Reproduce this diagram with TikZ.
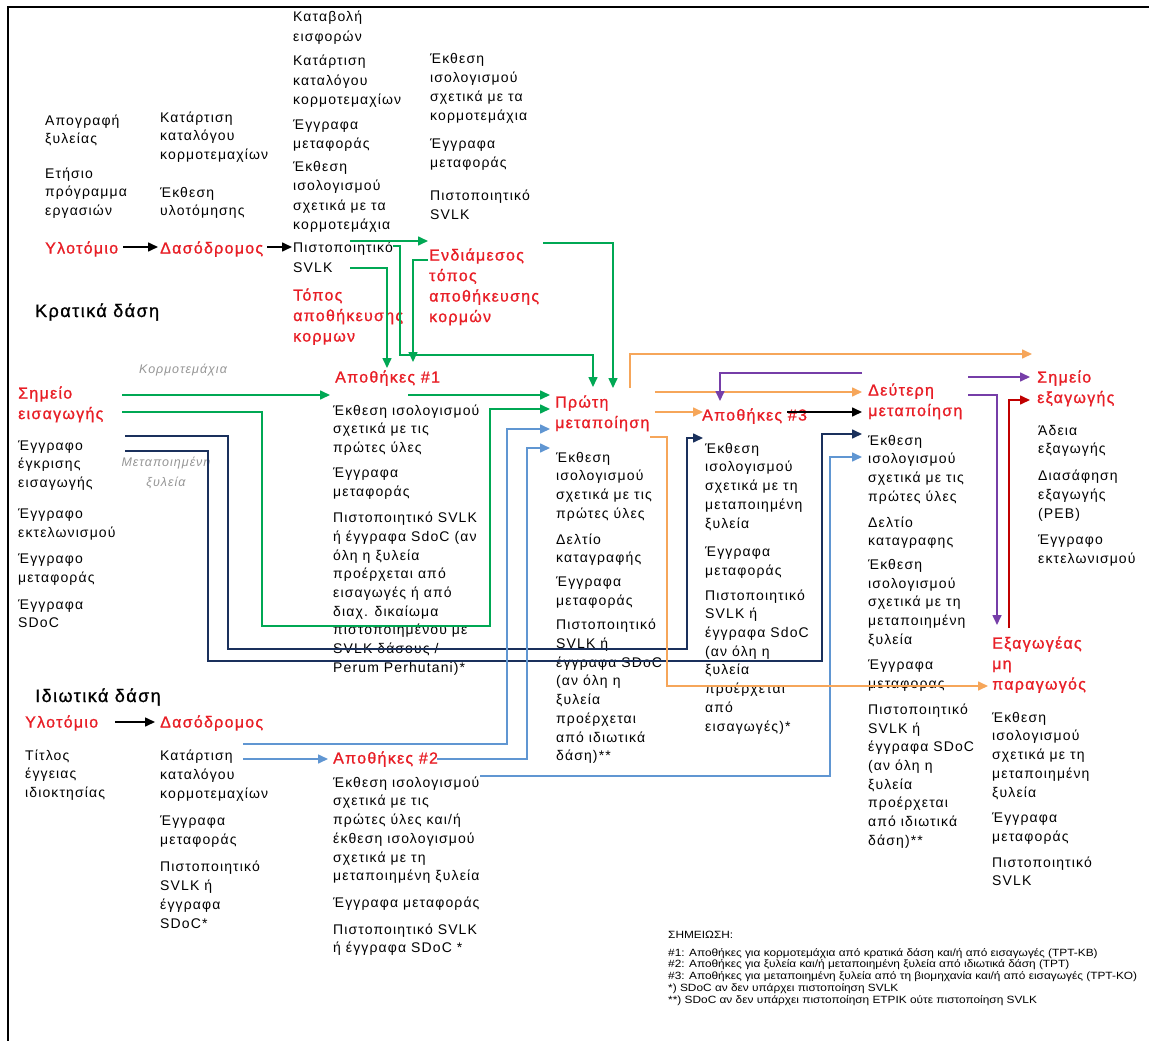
\documentclass[tikz,border=0pt]{standalone}
\usepackage{fontspec}
\setmainfont{Liberation Sans}[LetterSpace=8]
\newfontfamily\notefont{Liberation Sans}[FakeStretch=1.13]
\newfontfamily\headfam{Liberation Sans}[LetterSpace=8, FakeBold=1]
\usetikzlibrary{arrows.meta}

\definecolor{hred}{RGB}{232,30,38}
\definecolor{lgreen}{RGB}{0,168,84}
\definecolor{navy}{RGB}{26,48,92}
\definecolor{lblue}{RGB}{96,150,210}
\definecolor{lorange}{RGB}{246,166,90}
\definecolor{lpurple}{RGB}{118,62,168}
\definecolor{dred}{RGB}{192,0,0}
\definecolor{lgray}{RGB}{150,150,150}

\newcommand{\bodyfont}{\fontsize{14}{18.7}\selectfont}
\newcommand{\headfont}{\headfam\fontsize{16}{20.5}\selectfont}

\tikzset{
  txt/.style={anchor=north west, align=left, inner sep=0pt, font=\bodyfont},
  hdr/.style={anchor=north west, align=left, inner sep=0pt, font=\headfont, text=hred},
  grlabel/.style={align=center, inner sep=0pt, text=lgray, font=\fontsize{12.5}{20}\selectfont\itshape},
  flow/.style={line width=1.6pt, -{Triangle[length=10pt,width=9pt]}},
  grnarrow/.style={flow, lgreen},
  navyarrow/.style={flow, navy},
  bluearrow/.style={flow, lblue},
  orarrow/.style={flow, lorange},
  purarrow/.style={flow, lpurple},
  redarrow/.style={flow, dred},
  blkarrow/.style={flow, black}
}

\begin{document}
\begin{tikzpicture}[x=1pt,y=-1pt]
	\useasboundingbox (0,0) rectangle (1149,1041);
	\fill[white] (0,0) rectangle (1149,1041);
	\draw[line width=1.5pt] (8,1041) -- (8,7) -- (1149,7);

	%Nodes: state forests
	\node[txt] (apog)     at (45,112)  {\strut Απογραφή\\ξυλείας};
	\node[txt] (etisio)   at (45,165)  {\strut Ετήσιο\\πρόγραμμα\\εργασιών};
	\node[txt] (katart1)  at (160,109) {\strut Κατάρτιση\\καταλόγου\\κορμοτεμαχίων};
	\node[txt] (ekth1)    at (160,184) {\strut Έκθεση\\υλοτόμησης};
	\node[txt, font=\fontsize{14}{19.5}\selectfont] (kataboli) at (293,8)
		{\strut Καταβολή\\εισφορών\\[5pt]Κατάρτιση\\καταλόγου\\κορμοτεμαχίων\\[5pt]Έγγραφα\\μεταφοράς\\[3pt]Έκθεση\\ισολογισμού\\σχετικά με τα\\κορμοτεμάχια};
	\node[txt, font=\fontsize{14}{19.5}\selectfont] (cert1) at (293,239) {\strut Πιστοποιητικό\\SVLK};
	\node[txt, font=\fontsize{14}{19}\selectfont] (ekth2) at (430,50)
		{\strut Έκθεση\\ισολογισμού\\σχετικά με τα\\κορμοτεμάχια\\[9pt]Έγγραφα\\μεταφοράς\\[14pt]Πιστοποιητικό\\SVLK};
	\node[hdr] (ylot1)  at (45,239)  {\strut Υλοτόμιο};
	\node[hdr] (dasod1) at (160,239) {\strut Δασόδρομος};
	\node[hdr] (topos)  at (293,286) {\strut Τόπος\\αποθήκευσης\\κορμων};
	\node[hdr] (endiam) at (429,246) {\strut Ενδιάμεσος\\τόπος\\αποθήκευσης\\κορμών};
	\node[anchor=base west, inner sep=0pt, font=\headfam\fontsize{18}{22}\selectfont] (kratika) at (35,317) {Κρατικά δάση};

	\node[hdr] (simeio1) at (18,384) {\strut Σημείο\\εισαγωγής};
	\node[txt] (eggr1)   at (18,437)
		{\strut Έγγραφο\\έγκρισης\\εισαγωγής\\[12pt]Έγγραφο\\εκτελωνισμού\\[8pt]Έγγραφο\\μεταφοράς\\[8pt]Έγγραφα\\SDoC};
	\node[grlabel] (lblkorm) at (183,370) {Κορμοτεμάχια};
	\node[grlabel] (lblmet)  at (166,473) {Μεταποιημένη\\ξυλεία};

	\node[hdr] (apoth1)  at (335,368) {\strut Αποθήκες \#1};
	\node[txt] (apoth1l) at (333,402)
		{\strut Έκθεση ισολογισμού\\σχετικά με τις\\πρώτες ύλες\\[6pt]Έγγραφα\\μεταφοράς\\[8pt]Πιστοποιητικό SVLK\\ή έγγραφα SdoC (αν\\όλη η ξυλεία\\προέρχεται από\\εισαγωγές ή από\\διαχ. δικαίωμα\\πιστοποιημένου με\\SVLK δάσους /\\Perum Perhutani)*};

	\node[hdr] (proti)  at (555,393) {\strut Πρώτη\\μεταποίηση};
	\node[txt] (protil) at (556,449)
		{\strut Έκθεση\\ισολογισμού\\σχετικά με τις\\πρώτες ύλες\\[7pt]Δελτίο\\καταγραφής\\[5pt]Έγγραφα\\μεταφοράς\\[6pt]Πιστοποιητικό\\SVLK ή\\έγγραφα SDoC\\(αν όλη η\\ξυλεία\\προέρχεται\\από ιδιωτικά\\δάση)**};

	\node[hdr] (apoth3)  at (702,406) {\strut Αποθήκες \#3};
	\node[txt] (apoth3l) at (705,440)
		{\strut Έκθεση\\ισολογισμού\\σχετικά με τη\\μεταποιημένη\\ξυλεία\\[10pt]Έγγραφα\\μεταφοράς\\[6pt]Πιστοποιητικό\\SVLK ή\\έγγραφα SdoC\\(αν όλη η\\ξυλεία\\προέρχεται\\από\\εισαγωγές)*};

	\node[hdr] (deut)  at (868,381) {\strut Δεύτερη\\μεταποίηση};
	\node[txt] (deutl) at (868,432)
		{\strut Έκθεση\\ισολογισμού\\σχετικά με τις\\πρώτες ύλες\\[7pt]Δελτίο\\καταγραφης\\[5pt]Έκθεση\\ισολογισμού\\σχετικά με τη\\μεταποιημένη\\ξυλεία\\[7pt]Έγγραφα\\μεταφορας\\[7pt]Πιστοποιητικό\\SVLK ή\\έγγραφα SDoC\\(αν όλη η\\ξυλεία\\προέρχεται\\από ιδιωτικά\\δάση)**};

	\node[hdr] (simeio2)  at (1037,368) {\strut Σημείο\\εξαγωγής};
	\node[txt] (simeio2l) at (1038,422)
		{\strut Άδεια\\εξαγωγής\\[8pt]Διασάφηση\\εξαγωγής\\(PEB)\\[8pt]Έγγραφο\\εκτελωνισμού};

	\node[hdr] (exag)  at (992,634) {\strut Εξαγωγέας\\μη\\παραγωγός};
	\node[txt] (exagl) at (992,709)
		{\strut Έκθεση\\ισολογισμού\\σχετικά με τη\\μεταποιημένη\\ξυλεία\\[7pt]Έγγραφα\\μεταφοράς\\[7pt]Πιστοποιητικό\\SVLK};

	%Nodes: private forests
	\node[anchor=base west, inner sep=0pt, font=\headfam\fontsize{18}{22}\selectfont] (idiot) at (35,702) {Ιδιωτικά δάση};
	\node[hdr] (ylot2)  at (25,713)  {\strut Υλοτόμιο};
	\node[hdr] (dasod2) at (160,713) {\strut Δασόδρομος};
	\node[txt] (titlos) at (25,747)  {\strut Τίτλος\\έγγειας\\ιδιοκτησίας};
	\node[txt, font=\fontsize{14}{19}\selectfont] (katart2) at (160,747)
		{\strut Κατάρτιση\\καταλόγου\\κορμοτεμαχίων\\[8pt]Έγγραφα\\μεταφοράς\\[8pt]Πιστοποιητικό\\SVLK ή\\έγγραφα\\SDoC*};
	\node[hdr] (apoth2)  at (333,749) {\strut Αποθήκες \#2};
	\node[txt] (apoth2l) at (333,774)
		{\strut Έκθεση ισολογισμού\\σχετικά με τις\\πρώτες ύλες και/ή\\έκθεση ισολογισμού\\σχετικά με τη\\μεταποιημένη ξυλεία\\[8pt]Έγγραφα μεταφοράς\\[8pt]Πιστοποιητικό SVLK\\ή έγγραφα SDoC *};

	%Note
	\node[anchor=north west, align=left, inner sep=0pt, font=\notefont\fontsize{10.5}{11.7}\selectfont] (simeiosi) at (668,931)
		{ΣΗΜΕΙΩΣΗ:\\[6pt]\#1: Αποθήκες για κορμοτεμάχια από κρατικά δάση και/ή από εισαγωγές (TPT-KB)\\\#2: Αποθήκες για ξυλεία και/ή μεταποιημένη ξυλεία από ιδιωτικά δάση (TPT)\\\#3: Αποθήκες για μεταποιημένη ξυλεία από τη βιομηχανία και/ή από εισαγωγές (TPT-KO)\\*) SDoC αν δεν υπάρχει πιστοποίηση SVLK\\**) SDoC αν δεν υπάρχει πιστοποίηση ETPIK ούτε πιστοποίηση SVLK};

	%Coordinates
	\coordinate (g1s) at (350,241);  \coordinate (g1e) at (428,241);
	\coordinate (g2s) at (393,246);  \coordinate (g2e) at (593,387);
	\coordinate (g3s) at (350,268);  \coordinate (g3e) at (387,368);
	\coordinate (g4s) at (428,260);  \coordinate (g4e) at (413,362);
	\coordinate (g5s) at (543,243);  \coordinate (g5e) at (613,388);
	\coordinate (g6s) at (122,395);  \coordinate (g6e) at (330,395);
	\coordinate (g7s) at (122,412);  \coordinate (g7e) at (550,409);
	\coordinate (g8s) at (408,395);  \coordinate (g8e) at (550,395);
	\coordinate (n1s) at (125,436);  \coordinate (n1e) at (703,438);
	\coordinate (n2s) at (125,451);  \coordinate (n2e) at (862,434);
	\coordinate (b1s) at (243,744);  \coordinate (b1e) at (550,429);
	\coordinate (b2s) at (243,759);  \coordinate (b2e) at (328,759);
	\coordinate (b3s) at (437,759);  \coordinate (b3e) at (550,448);
	\coordinate (b4s) at (480,776);  \coordinate (b4e) at (862,457);
	\coordinate (o1s) at (630,388);  \coordinate (o1e) at (1032,354);
	\coordinate (o2s) at (655,392);  \coordinate (o2e) at (862,392);
	\coordinate (o3s) at (655,412);  \coordinate (o3e) at (703,412);
	\coordinate (o4s) at (650,437);  \coordinate (o4e) at (988,686);
	\coordinate (p1s) at (862,373);  \coordinate (p1e) at (720,401);
	\coordinate (p2s) at (968,377);  \coordinate (p2e) at (1030,377);
	\coordinate (p3s) at (968,395);  \coordinate (p3e) at (997,625);
	\coordinate (r1s) at (1009,628); \coordinate (r1e) at (1030,400);
	\coordinate (k4s) at (787,412);  \coordinate (k4e) at (862,412);

	%Lines
	\draw[blkarrow] (123,247) -- (158,247);
	\draw[blkarrow] (267,247) -- (292,247);
	\draw[blkarrow] (115,722) -- (155,722);
	\draw[blkarrow] (k4s) -- (k4e);

	\draw[grnarrow] (g1s) -- (g1e);
	\draw[grnarrow] (g2s) -| (400,355) -| (g2e);
	\draw[grnarrow] (g3s) -| (g3e);
	\draw[grnarrow] (g4s) -| (g4e);
	\draw[grnarrow] (g5s) -| (g5e);
	\draw[grnarrow] (g6s) -- (g6e);
	\draw[grnarrow] (g7s) -| (262,626) -| (490,409) -- (g7e);
	\draw[grnarrow] (g8s) -- (g8e);

	\draw[navyarrow] (n1s) -| (228,649) -| (687,438) -- (n1e);
	\draw[navyarrow] (n2s) -| (208,661) -| (822,434) -- (n2e);

	\draw[bluearrow] (b1s) -| (507,429) -- (b1e);
	\draw[bluearrow] (b2s) -- (b2e);
	\draw[bluearrow] (b3s) -| (527,448) -- (b3e);
	\draw[bluearrow] (b4s) -| (830,457) -- (b4e);

	\draw[orarrow] (o1s) |- (o1e);
	\draw[orarrow] (o2s) -- (o2e);
	\draw[orarrow] (o3s) -- (o3e);
	\draw[orarrow] (o4s) -| (667,686) -- (o4e);

	\draw[purarrow] (p1s) -| (p1e);
	\draw[purarrow] (p2s) -- (p2e);
	\draw[purarrow] (p3s) -| (p3e);
	\draw[redarrow] (r1s) |- (r1e);
\end{tikzpicture}
\end{document}
